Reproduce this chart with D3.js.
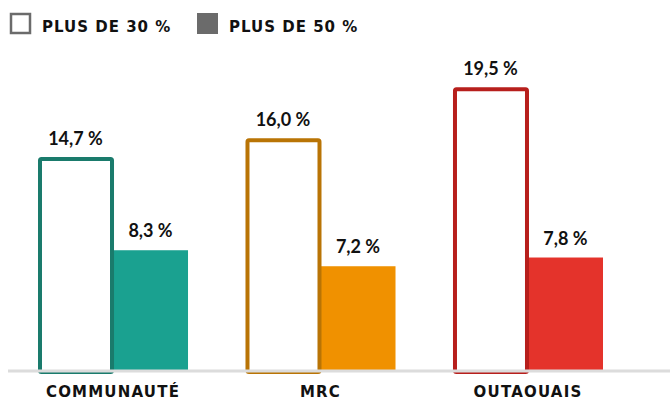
<!DOCTYPE html>
<html>
<head>
<meta charset="utf-8">
<script src="https://cdn.jsdelivr.net/npm/d3@7"></script>
<style>
  body { margin: 0; background: #fff; }
</style>
</head>
<body>
<div id="chart"></div>
<script>
// data
const categories = ["COMMUNAUTÉ", "MRC", "OUTAOUAIS"];
const series = ["PLUS DE 30 %", "PLUS DE 50 %"];
const over30 = [14.7, 16.0, 19.5];
const over50 = [8.3, 7.2, 7.8];
const outlineColors = ["#1a7b6c", "#b97405", "#b71f1c"];
const fillColors = ["#1aa190", "#f09100", "#e4332b"];

const width = 670, height = 400;
const baseY = 371;

const svg = d3.select("#chart").append("svg")
    .attr("width", width).attr("height", height);

// scales
const x = d3.scaleBand().domain(categories).range([38, 603]).paddingInner(0.277);
const xs = d3.scaleBand().domain(series).range([0, x.bandwidth()]);
const y = d3.scaleLinear().domain([0, 20]).range([baseY, baseY - 291]);

const fmt = v => d3.format(".1f")(v).replace(".", ",") + " %";

// legend
const legend = svg.append("g");
legend.append("rect").attr("x", 11).attr("y", 14).attr("width", 19).attr("height", 19)
    .attr("fill", "#fff").attr("stroke", "#6b6b6b").attr("stroke-width", 2.5);
legend.append("text").attr("x", 42).attr("y", 32).text(series[0]);
legend.append("rect").attr("x", 197).attr("y", 13).attr("width", 21).attr("height", 21)
    .attr("fill", "#6b6b6b");
legend.append("text").attr("x", 229).attr("y", 32).text(series[1]);
legend.selectAll("text")
    .attr("font-family", "DejaVu Sans, sans-serif")
    .attr("font-weight", "bold")
    .attr("font-size", 15)
    .attr("letter-spacing", 1)
    .attr("fill", "#111");

const groups = svg.selectAll("g.grp").data(categories).join("g")
    .attr("class", "grp")
    .attr("transform", d => `translate(${x(d)},0)`);

// filled bars (plus de 50 %)
groups.append("rect")
    .attr("x", xs(series[1]))
    .attr("y", (d, i) => y(over50[i]))
    .attr("width", xs.bandwidth())
    .attr("height", (d, i) => baseY - y(over50[i]))
    .attr("fill", (d, i) => fillColors[i]);

// outlined bars (plus de 30 %)
groups.append("rect")
    .attr("x", xs(series[0]) + 2)
    .attr("y", (d, i) => y(over30[i]) + 2)
    .attr("width", xs.bandwidth() - 3)
    .attr("height", (d, i) => baseY + 1 - y(over30[i]) - 2)
    .attr("rx", 1.5)
    .attr("fill", "#fff")
    .attr("stroke", (d, i) => outlineColors[i])
    .attr("stroke-width", 4);

// baseline
svg.append("line")
    .attr("x1", 8).attr("x2", width)
    .attr("y1", baseY).attr("y2", baseY)
    .attr("stroke", "#dcdcdc").attr("stroke-width", 3);

// value labels
const labelStyle = sel => sel
    .attr("text-anchor", "middle")
    .attr("font-family", "Lato, sans-serif")
    .attr("font-weight", "bold")
    .attr("font-size", 18)
    .attr("fill", "#111");

groups.append("text")
    .attr("x", xs(series[0]) + xs.bandwidth() / 2)
    .attr("y", (d, i) => y(over30[i]) - 12)
    .text((d, i) => fmt(over30[i]))
    .call(labelStyle);

groups.append("text")
    .attr("x", xs(series[1]) + xs.bandwidth() / 2)
    .attr("y", (d, i) => y(over50[i]) - 13)
    .text((d, i) => fmt(over50[i]))
    .call(labelStyle);

// category labels
groups.append("text")
    .attr("x", x.bandwidth() / 2)
    .attr("y", 397)
    .attr("text-anchor", "middle")
    .attr("font-family", "DejaVu Sans, sans-serif")
    .attr("font-weight", "bold")
    .attr("font-size", 15)
    .attr("letter-spacing", 1.2)
    .attr("fill", "#111")
    .text(d => d);
</script>
</body>
</html>
